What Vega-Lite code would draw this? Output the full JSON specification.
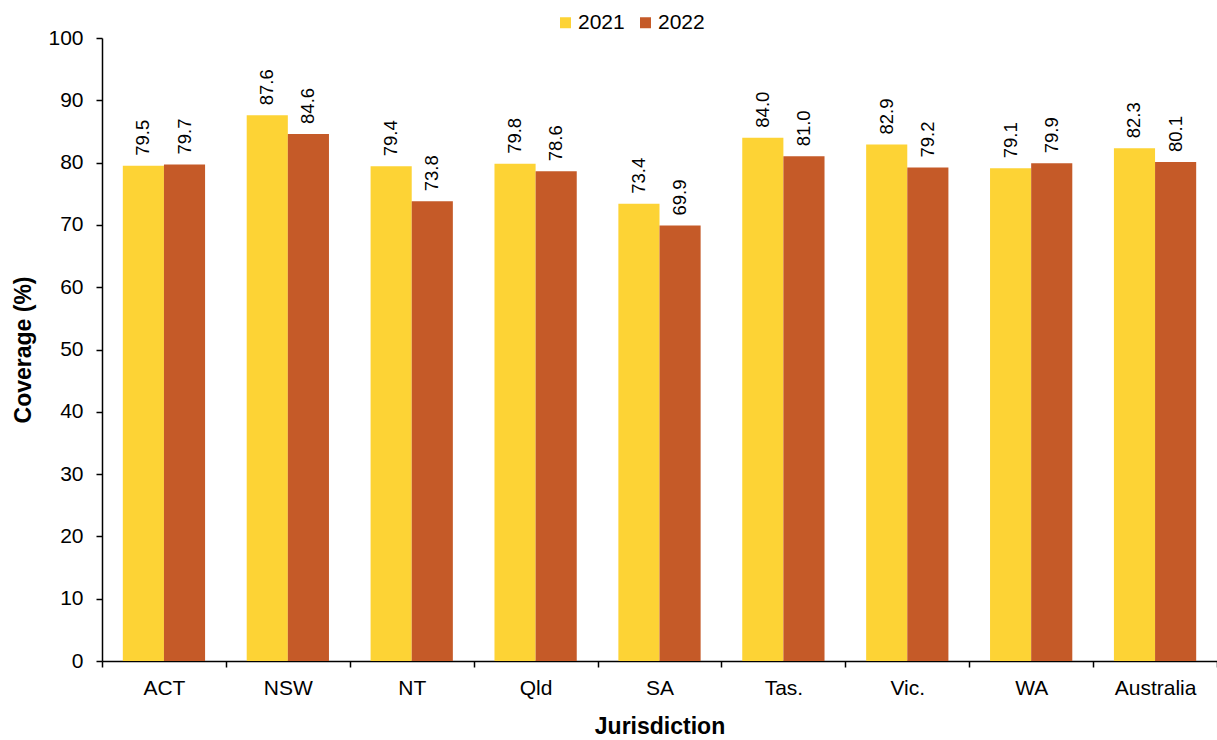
{
  "$schema": "https://vega.github.io/schema/vega-lite/v6.json",
  "autosize": "none",
  "padding": {"left": 102, "top": 38, "right": 0, "bottom": 79},
  "width": 1115,
  "height": 623,
  "background": "white",
  "config": {
    "view": {"stroke": null},
    "font": "Liberation Sans",
    "axis": {"labelFont": "Liberation Sans", "titleFont": "Liberation Sans", "labelColor": "black", "titleColor": "black", "domainColor": "black", "tickColor": "black", "grid": false}
  },
  "data": {"values": [
    {"j": "ACT", "year": "2021", "v": 79.5}, {"j": "ACT", "year": "2022", "v": 79.7},
    {"j": "NSW", "year": "2021", "v": 87.6}, {"j": "NSW", "year": "2022", "v": 84.6},
    {"j": "NT", "year": "2021", "v": 79.4}, {"j": "NT", "year": "2022", "v": 73.8},
    {"j": "Qld", "year": "2021", "v": 79.8}, {"j": "Qld", "year": "2022", "v": 78.6},
    {"j": "SA", "year": "2021", "v": 73.4}, {"j": "SA", "year": "2022", "v": 69.9},
    {"j": "Tas.", "year": "2021", "v": 84.0}, {"j": "Tas.", "year": "2022", "v": 81.0},
    {"j": "Vic.", "year": "2021", "v": 82.9}, {"j": "Vic.", "year": "2022", "v": 79.2},
    {"j": "WA", "year": "2021", "v": 79.1}, {"j": "WA", "year": "2022", "v": 79.9},
    {"j": "Australia", "year": "2021", "v": 82.3}, {"j": "Australia", "year": "2022", "v": 80.1}
  ]},
  "encoding": {
    "x": {"field": "j", "type": "nominal", "sort": null, "title": "Jurisdiction",
      "scale": {"paddingInner": 0, "paddingOuter": 0},
      "axis": {"labelAngle": 0, "labelFontSize": 21, "titleFontSize": 23, "titleFontWeight": "bold", "tickBand": "extent", "tickSize": 6, "labelPadding": 10, "titlePadding": 17, "domainWidth": 1.5, "tickWidth": 1.5}},
    "xOffset": {"field": "year", "type": "nominal", "scale": {"paddingInner": 0, "paddingOuter": 0.506}},
    "y": {"field": "v", "type": "quantitative", "title": "Coverage (%)",
      "scale": {"domain": [0, 100]},
      "axis": {"values": [0,10,20,30,40,50,60,70,80,90,100], "labelFontSize": 21, "titleFontSize": 23, "titleFontWeight": "bold", "tickSize": 6, "labelPadding": 13, "titlePadding": 12, "domainWidth": 1.5, "tickWidth": 1.5}}
  },
  "layer": [
    {
      "mark": {"type": "bar"},
      "encoding": {
        "color": {"field": "year", "type": "nominal",
          "scale": {"domain": ["2021", "2022"], "range": ["#FDD335", "#C55A28"]},
          "legend": {"title": null, "orient": "none", "direction": "horizontal", "legendX": 453, "legendY": -26, "symbolType": "square", "symbolSize": 121, "symbolStrokeWidth": 0, "labelFontSize": 21, "labelFont": "Liberation Sans", "labelOffset": 2, "columnPadding": 10, "symbolOpacity": 1}}
      }
    },
    {
      "mark": {"type": "text", "angle": 270, "align": "left", "baseline": "middle", "dx": 10, "fontSize": 18.5, "color": "black"},
      "encoding": {"text": {"field": "v", "type": "quantitative", "format": ".1f"}}
    }
  ]
}
